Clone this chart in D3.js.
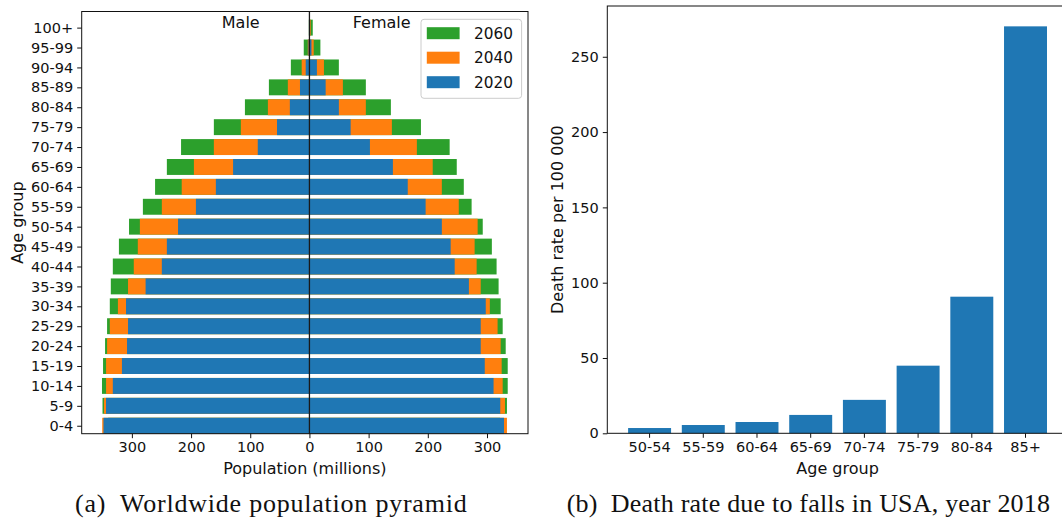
<!DOCTYPE html>
<html>
<head>
<meta charset="utf-8">
<script src="https://cdn.jsdelivr.net/npm/d3@7"></script>
<style>
  html, body { margin: 0; padding: 0; background: #fff; }
  svg { display: block; }
  text { font-family: "DejaVu Sans", sans-serif; fill: #111; }
  .caption { font-family: "Liberation Serif", "Times New Roman", serif; }
</style>
</head>
<body>
<svg id="fig" width="1062" height="523"></svg>
<script>
// Population pyramid: age groups from youngest to oldest (millions)
const ageGroups = ["0-4","5-9","10-14","15-19","20-24","25-29","30-34","35-39","40-44","45-49",
  "50-54","55-59","60-64","65-69","70-74","75-79","80-84","85-89","90-94","95-99","100+"];

const years = ["2060", "2040", "2020"];

const male2020 = [347.9, 343.7, 332.2, 316.8, 308.2, 306.5, 309.9, 276.8, 249.4, 240.9,
  222.0, 191.8, 158.1, 129.0, 87.3, 54.8, 33.1, 16.0, 6.3, 1.5, 0.2];
const male2040 = [350.1, 347.2, 343.6, 343.6, 341.9, 337.3, 323.6, 306.5, 296.8, 290.0,
  286.5, 249.4, 215.8, 195.2, 161.5, 115.9, 70.2, 36.5, 13.1, 2.8, 0.4];
const male2060 = [340.0, 349.6, 350.5, 348.7, 345.3, 341.9, 337.3, 335.6, 332.2, 321.9,
  304.8, 281.4, 260.8, 240.9, 216.9, 161.5, 109.0, 68.5, 31.4, 9.6, 1.0];

const female2020 = [328.7, 322.4, 311.1, 296.2, 289.4, 289.4, 297.9, 269.4, 245.4, 238.6,
  223.7, 196.3, 166.1, 141.0, 102.2, 69.6, 49.7, 27.4, 12.6, 3.4, 1.0];
const female2040 = [333.7, 330.4, 326.5, 324.8, 323.1, 317.9, 304.8, 289.4, 282.5, 279.1,
  284.2, 252.3, 223.7, 208.3, 181.5, 139.3, 95.3, 56.5, 24.5, 7.2, 2.2];
const female2060 = [322.0, 333.7, 335.0, 335.0, 331.6, 326.5, 323.1, 319.6, 316.2, 308.2,
  292.8, 274.0, 260.8, 248.9, 236.9, 188.4, 137.6, 95.3, 49.7, 18.5, 5.6];

const popTicks = [-300, -200, -100, 0, 100, 200, 300];

// Deaths due to falls in the USA, 2018 (per 100 000)
const fallAgeGroups = ["50-54","55-59","60-64","65-69","70-74","75-79","80-84","85+"];
const fallDeathRate = [3.5, 5.5, 7.5, 12.2, 22.2, 44.9, 90.7, 270.2];
const rateTicks = [0, 50, 100, 150, 200, 250];

const colors = { "2020": "#1f77b4", "2040": "#ff7f0e", "2060": "#2ca02c" };

const svg = d3.select("#fig");
svg.append("rect").attr("width", 1062).attr("height", 523).attr("fill", "#fff");

const TICK_FONT = "14.5px";
const LABEL_FONT = "16px";

function styleAxis(g) {
  g.select(".domain").remove();
  g.selectAll(".tick line").attr("stroke", "#111").attr("stroke-width", 1);
  g.selectAll(".tick text").style("font-size", TICK_FONT).attr("fill", "#111");
}

// ---------- (a) population pyramid ----------
{
  const L = 81.7, R = 528, T = 11.5, B = 433.7;
  const series = {
    "2020": { m: male2020, f: female2020 },
    "2040": { m: male2040, f: female2040 },
    "2060": { m: male2060, f: female2060 }
  };
  const minV = -d3.max([...male2020, ...male2040, ...male2060]);
  const maxV = d3.max([...female2020, ...female2040, ...female2060]);
  const pad = (maxV - minV) * 0.05;
  const x = d3.scaleLinear().domain([minV - pad, maxV + pad]).range([L, R]);
  const y = d3.scaleLinear().domain([-0.4, 20.81]).range([B, T]);
  const barH = y(0) - y(0.8);

  const g = svg.append("g");

  // back to front: 2060, 2040, 2020
  years.forEach(yr => {
    const s = series[yr];
    g.append("g").selectAll("rect.m").data(s.m).join("rect")
      .attr("x", d => x(-d)).attr("width", d => x(0) - x(-d))
      .attr("y", (d, i) => y(i + 0.4)).attr("height", barH)
      .attr("fill", colors[yr]);
    g.append("g").selectAll("rect.f").data(s.f).join("rect")
      .attr("x", x(0)).attr("width", d => x(d) - x(0))
      .attr("y", (d, i) => y(i + 0.4)).attr("height", barH)
      .attr("fill", colors[yr]);
  });

  // centre line
  g.append("line").attr("x1", x(0)).attr("x2", x(0)).attr("y1", T).attr("y2", B)
    .attr("stroke", "#1a1a1a").attr("stroke-width", 1.3);

  // axes
  const xAxis = d3.axisBottom(x).tickValues(popTicks).tickFormat(d => Math.abs(d))
    .tickSizeOuter(0).tickSize(4.5).tickPadding(4);
  g.append("g").attr("transform", `translate(0,${B})`).call(xAxis).call(styleAxis);

  const yAxis = d3.axisLeft(y).tickValues(d3.range(ageGroups.length))
    .tickFormat(i => ageGroups[i]).tickSizeOuter(0).tickSize(4.5).tickPadding(4);
  g.append("g").attr("transform", `translate(${L},0)`).call(yAxis).call(styleAxis);

  g.append("rect").attr("x", L).attr("y", T).attr("width", R - L).attr("height", B - T)
    .attr("fill", "none").attr("stroke", "#111").attr("stroke-width", 1);

  // side labels
  g.append("text").attr("x", x(-116)).attr("y", y(20)).attr("text-anchor", "middle")
    .style("font-size", LABEL_FONT).text("Male");
  g.append("text").attr("x", x(122)).attr("y", y(20)).attr("text-anchor", "middle")
    .style("font-size", LABEL_FONT).text("Female");

  // axis titles
  g.append("text").attr("x", (L + R) / 2).attr("y", 473.5).attr("text-anchor", "middle")
    .style("font-size", LABEL_FONT).text("Population (millions)");
  g.append("text").attr("transform", `translate(22.5,${(T + B) / 2}) rotate(-90)`)
    .attr("text-anchor", "middle").style("font-size", LABEL_FONT).text("Age group");

  // legend
  const lg = g.append("g").attr("transform", "translate(421,19.3)");
  lg.append("rect").attr("width", 100.6).attr("height", 79).attr("rx", 3)
    .attr("fill", "#fff").attr("fill-opacity", 0.8).attr("stroke", "#ccc").attr("stroke-width", 1);
  years.forEach((yr, i) => {
    const cy = 13.9 + i * 24.5;
    lg.append("rect").attr("x", 5.8).attr("y", cy - 6).attr("width", 32.8).attr("height", 12)
      .attr("fill", colors[yr]);
    lg.append("text").attr("x", 53).attr("y", cy).attr("dy", "0.36em")
      .style("font-size", "15.3px").text(yr);
  });
}

// ---------- (b) fall death rate ----------
{
  const L = 607.3, R = 1067.8, T = 6, B = 433.3;
  const x = d3.scaleBand().domain(fallAgeGroups).range([L, R])
    .paddingInner(0.2).paddingOuter(0.3875);
  const y = d3.scaleLinear().domain([0, d3.max(fallDeathRate) * 1.05]).range([B, T]);

  const g = svg.append("g");
  g.append("g").selectAll("rect").data(fallDeathRate).join("rect")
    .attr("x", (d, i) => x(fallAgeGroups[i])).attr("width", x.bandwidth())
    .attr("y", d => y(d)).attr("height", d => B - y(d))
    .attr("fill", colors["2020"]);

  const xAxis = d3.axisBottom(x).tickSizeOuter(0).tickSize(4.5).tickPadding(4);
  g.append("g").attr("transform", `translate(0,${B})`).call(xAxis).call(styleAxis);
  const yAxis = d3.axisLeft(y).tickValues(rateTicks).tickSizeOuter(0).tickSize(4.5).tickPadding(4);
  g.append("g").attr("transform", `translate(${L},0)`).call(yAxis).call(styleAxis);

  g.append("rect").attr("x", L).attr("y", T).attr("width", R - L).attr("height", B - T)
    .attr("fill", "none").attr("stroke", "#111").attr("stroke-width", 1);

  g.append("text").attr("x", (L + R) / 2).attr("y", 473.5).attr("text-anchor", "middle")
    .style("font-size", LABEL_FONT).text("Age group");
  g.append("text").attr("transform", `translate(562.5,${(T + B) / 2}) rotate(-90)`)
    .attr("text-anchor", "middle").style("font-size", LABEL_FONT).text("Death rate per 100 000");
}

// ---------- sub-captions ----------
function caption(tag, body, x0, x1) {
  const t = svg.append("text").attr("class", "caption")
    .attr("x", x0).attr("y", 511.7).style("font-size", "26px")
    .attr("textLength", x1 - x0).attr("lengthAdjust", "spacing");
  t.append("tspan").text(tag);
  t.append("tspan").text("\u2002" + body);
}
caption("(a)", "Worldwide population pyramid", 75, 466.7);
caption("(b)", "Death rate due to falls in USA, year 2018", 566.7, 1050);
</script>
</body>
</html>
